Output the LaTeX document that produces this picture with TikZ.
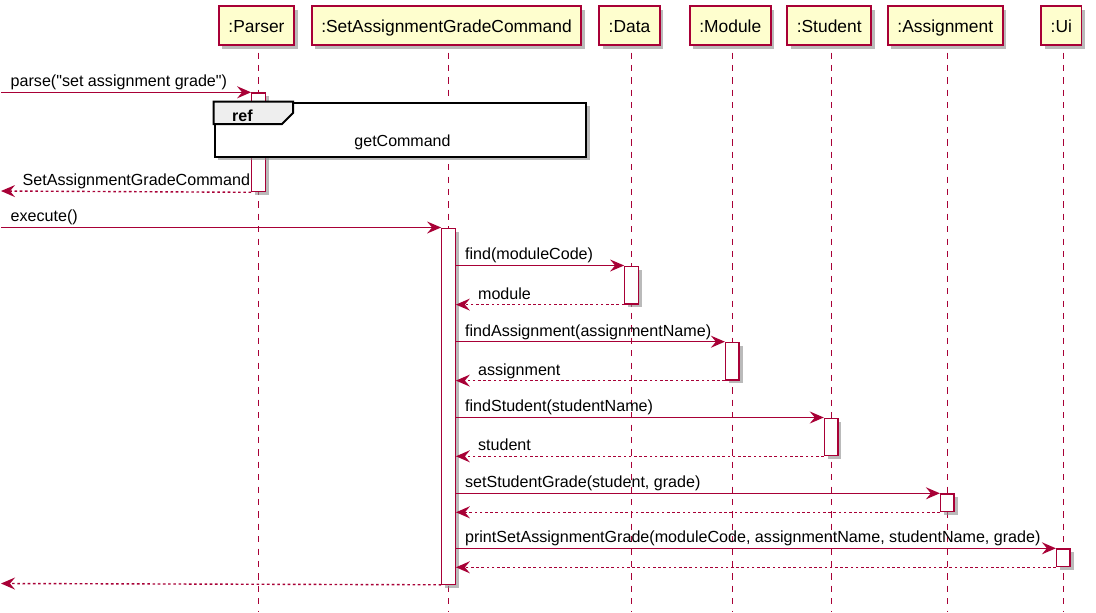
\documentclass[tikz,border=0pt]{standalone}
\usepackage{fontspec}
\setmainfont{Liberation Sans}
\usepackage{xcolor}
\usetikzlibrary{positioning,arrows.meta,shadows}
\definecolor{umlred}{RGB}{168,0,54}
\definecolor{umlfill}{RGB}{254,254,206}
\definecolor{refhead}{RGB}{238,238,238}

\begin{document}
\begin{tikzpicture}[x=1pt,y=-1pt,
  boxshadow/.style={drop shadow={shadow xshift=3.5pt,shadow yshift=-3.5pt,fill=black!45,opacity=0.6}},
  part/.style={draw=umlred,fill=umlfill,line width=1.8pt,minimum height=39pt,
    inner xsep=9.5pt,inner ysep=0pt,text height=15pt,text depth=2pt,
    font=\fontsize{17.4}{20}\selectfont,boxshadow},
  life/.style={draw=umlred,line width=1.3pt,dash pattern=on 6.2pt off 6.2pt},
  act/.style={draw=umlred,fill=white,line width=1.3pt,minimum width=13.5pt,
    inner sep=0pt,anchor=north,boxshadow},
  call/.style={draw=umlred,line width=1.4pt,-{Stealth[length=14pt,width=12pt,inset=5pt]}},
  ret/.style={call,dash pattern=on 2.6pt off 2.6pt},
  msg/.style={font=\fontsize{16.1}{18}\selectfont,inner sep=0pt,anchor=base west,yshift=5.6pt},
]
% Sequence diagram on a pixel grid (y grows downward).
% Lifeline x positions; the heads sit 2px left of them.
\def\xP{258.5}
\def\xC{448.5}
\def\xD{631.5}
\def\xM{732.3}
\def\xS{831.2}
\def\xA{947.3}
\def\xU{1063.3}
\fill[white] (0,0) rectangle (1096,613);
\useasboundingbox (0,0) rectangle (1096,613);
% Participants
\node[part] (parser)  at (\xP-2,25.5) {:Parser};
\node[part] (cmd)     at (\xC-2,25.5) {:SetAssignmentGradeCommand};
\node[part] (data)    at (\xD-2,25.5) {:Data};
\node[part] (module)  at (\xM-2,25.5) {:Module};
\node[part] (student) at (\xS-2,25.5) {:Student};
\node[part] (assign)  at (\xA-2,25.5) {:Assignment};
\node[part] (ui)      at (\xU-2,25.5) {:Ui};
% Lifelines
\foreach \x in {\xP,\xC,\xD,\xM,\xS,\xA,\xU}
  \draw[life] (\x,52.5) -- (\x,612);
% Activation bars
\node[act,minimum height=98.7pt] (aP) at (\xP,92.3) {};
\node[act,minimum height=356pt]  (aC) at (\xC,227.5) {};
\node[act,minimum height=37.8pt] (aD) at (\xD,265.5) {};
\node[act,minimum height=37.6pt] (aM) at (\xM,341.7) {};
\node[act,minimum height=37.5pt] (aS) at (\xS,417.5) {};
\node[act,minimum height=17.7pt] (aA) at (\xA,493.3) {};
\node[act,minimum height=17.7pt] (aU) at (\xU,548.3) {};
% ref frame over the parser
\node[draw=black,fill=white,line width=2.4pt,minimum width=371.5pt,minimum height=54pt,
  anchor=north west,inner sep=0pt,boxshadow] (ref) at (213.5,101.5) {};
\filldraw[draw=black,fill=refhead,line width=2pt]
  (ref.north west) -- ++(79.5,0) -- ++(0,11.5) -- ++(-11,11) -- (ref.north west |- 0,124) -- cycle;
\node[font=\bfseries\fontsize{16}{18}\selectfont,anchor=base west,inner sep=0pt] (refTag) at (232,121.5) {ref};
\node[font=\fontsize{16}{18}\selectfont,anchor=base,inner sep=0pt] (refName) at (402.5,146.5) {getCommand};
% Free ends on the left border
\coordinate (inParse)  at (1,92.3);
\coordinate (outParse) at (1,191);
\coordinate (inExec)   at (1,227.5);
\coordinate (outExec)  at (1,583.5);
% Messages
\draw[call] (inParse) -- (aP.north west)
  node[msg,pos=0,xshift=9pt] (lParse) {parse(\textquotedbl set assignment grade\textquotedbl)};
\draw[ret] (aP.south west) -- (outParse)
  node[msg,pos=1,xshift=21pt] (lParseRet) {SetAssignmentGradeCommand};
\draw[call] (inExec) -- (aC.north west)
  node[msg,pos=0,xshift=9pt] (lExec) {execute()};
\draw[call] (aC.east |- aD.north west) -- (aD.north west)
  node[msg,pos=0,xshift=8.5pt] (lFind) {find(moduleCode)};
\draw[ret] (aD.south west) -- (aC.east |- aD.south west)
  node[msg,pos=1,xshift=21.5pt] (lFindRet) {module};
\draw[call] (aC.east |- aM.north west) -- (aM.north west)
  node[msg,pos=0,xshift=8.5pt] (lFindA) {findAssignment(assignmentName)};
\draw[ret] (aM.south west) -- (aC.east |- aM.south west)
  node[msg,pos=1,xshift=21.5pt] (lFindARet) {assignment};
\draw[call] (aC.east |- aS.north west) -- (aS.north west)
  node[msg,pos=0,xshift=8.5pt] (lFindS) {findStudent(studentName)};
\draw[ret] (aS.south west) -- (aC.east |- aS.south west)
  node[msg,pos=1,xshift=21.5pt] (lFindSRet) {student};
\draw[call] (aC.east |- aA.north west) -- (aA.north west)
  node[msg,pos=0,xshift=8.5pt] (lSetGrade) {setStudentGrade(student, grade)};
\draw[ret] (aA.south west) -- (aC.east |- aA.south west);
\draw[call] (aC.east |- aU.north west) -- (aU.north west)
  node[msg,pos=0,xshift=8.5pt] (lPrint) {printSetAssignmentGrade(moduleCode, assignmentName, studentName, grade)};
\draw[ret] (aU.south west) -- (aC.east |- aU.south west);
\draw[ret] (aC.south west) -- (outExec);
\end{tikzpicture}
\end{document}
